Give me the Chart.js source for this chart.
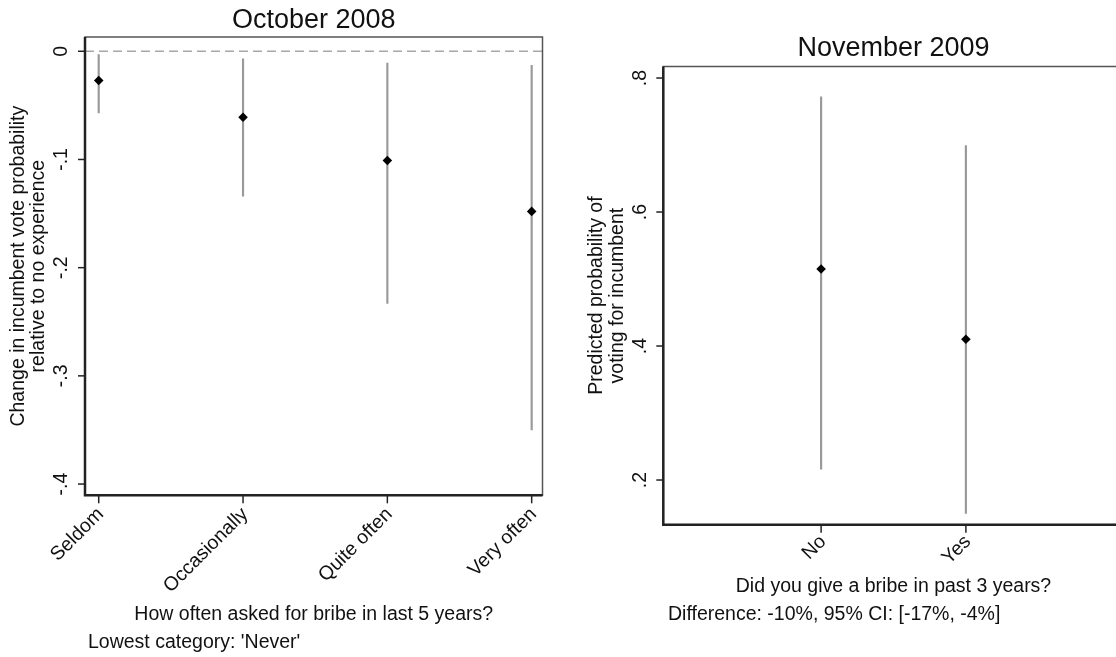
<!DOCTYPE html>
<html>
<head>
<meta charset="utf-8">
<script src="https://cdn.jsdelivr.net/npm/chart.js@4.4.1/dist/chart.umd.min.js"></script>
<style>
  html, body { margin: 0; padding: 0; background: #fff; overflow: hidden; width: 1116px; height: 657px; }
  #left  { position: absolute; left: 0;     top: 0; }
  #right { position: absolute; left: 560px; top: 0; }
</style>
</head>
<body>
<canvas id="left" width="560" height="657"></canvas>
<canvas id="right" width="600" height="657"></canvas>
<script>
// October 2008: change in incumbent vote probability vs. never being asked
const freqCategories = ['Seldom', 'Occasionally', 'Quite often', 'Very often'];
const freqEstimate   = [-0.027, -0.061, -0.101, -0.148];
const freqLower      = [-0.057, -0.134, -0.233, -0.350];
const freqUpper      = [-0.003, -0.007, -0.011, -0.013];
const freqTicks      = [0, -0.1, -0.2, -0.3, -0.4];
const freqTickLabels = ['0', '-.1', '-.2', '-.3', '-.4'];

// November 2009: predicted probability of voting for the incumbent
const bribeCategories = ['No', 'Yes'];
const bribeEstimate   = [0.515, 0.410];
const bribeLower      = [0.216, 0.150];
const bribeUpper      = [0.772, 0.699];
const bribeTicks      = [0.8, 0.6, 0.4, 0.2];
const bribeTickLabels = ['.8', '.6', '.4', '.2'];

const FONT = '"Liberation Sans", Arial, sans-serif';
const TEXT = '#111';

function rangeData(lower, upper) {
  return lower.map((lo, i) => ({ x: i + 1, y: [lo, upper[i]] }));
}
function pointData(est) {
  return est.map((v, i) => ({ x: i + 1, y: v }));
}

// Frame, axes, ticks and text for one panel
function panelDecor(p) {
  return {
    id: 'panelDecor',
    afterDraw(chart) {
      const { ctx, chartArea: a, scales: { x, y } } = chart;
      ctx.save();
      // plot region outline
      ctx.strokeStyle = '#555';
      ctx.lineWidth = 1.5;
      ctx.strokeRect(a.left, a.top, a.right - a.left, a.bottom - a.top);
      // axis lines
      ctx.strokeStyle = '#222';
      ctx.lineWidth = 2.5;
      ctx.beginPath();
      ctx.moveTo(a.left, a.top);
      ctx.lineTo(a.left, a.bottom);
      ctx.lineTo(a.right, a.bottom);
      ctx.stroke();

      // y ticks and rotated labels
      ctx.lineWidth = 1.5;
      ctx.fillStyle = TEXT;
      ctx.font = '19.5px ' + FONT;
      p.yTicks.forEach((v, i) => {
        const py = y.getPixelForValue(v);
        ctx.beginPath();
        ctx.moveTo(a.left - 7, py);
        ctx.lineTo(a.left, py);
        ctx.stroke();
        ctx.save();
        ctx.translate(p.yLabelX, py);
        ctx.rotate(-Math.PI / 2);
        ctx.textAlign = 'center';
        ctx.textBaseline = 'alphabetic';
        ctx.fillText(p.yTickLabels[i], 0, 0);
        ctx.restore();
      });

      // x ticks and slanted labels
      p.categories.forEach((c, i) => {
        const px = x.getPixelForValue(i + 1);
        ctx.beginPath();
        ctx.moveTo(px, a.bottom);
        ctx.lineTo(px, a.bottom + 8);
        ctx.stroke();
        ctx.save();
        ctx.translate(px + 2, a.bottom + p.xLabelDrop);
        ctx.rotate(-Math.PI / 4);
        ctx.textAlign = 'right';
        ctx.textBaseline = 'middle';
        ctx.fillText(c, 0, 0);
        ctx.restore();
      });

      // y axis title (two lines, rotated)
      const cy = (a.top + a.bottom) / 2;
      p.yTitle.forEach((line, i) => {
        ctx.save();
        ctx.translate(p.yTitleX[i], cy);
        ctx.rotate(-Math.PI / 2);
        ctx.textAlign = 'center';
        ctx.textBaseline = 'middle';
        ctx.fillText(line, 0, 0);
        ctx.restore();
      });

      // x axis title and note
      const cx = (a.left + a.right) / 2;
      ctx.textAlign = 'center';
      ctx.textBaseline = 'alphabetic';
      ctx.fillText(p.xTitle, cx, p.xTitleY);
      ctx.textAlign = 'left';
      ctx.fillText(p.note, p.noteX, p.noteY);

      // panel title
      ctx.font = '27px ' + FONT;
      ctx.textAlign = 'center';
      ctx.fillText(p.title, cx, p.titleY);
      ctx.restore();
    }
  };
}

function makePanel(id, p) {
  const datasets = [
    {
      type: 'line',
      data: pointData(p.estimate),
      showLine: false,
      pointStyle: 'rectRot',
      pointRadius: 4.8,
      pointBackgroundColor: '#000',
      pointBorderColor: '#000',
      pointBorderWidth: 0,
      order: 0
    },
    {
      type: 'bar',
      data: rangeData(p.lower, p.upper),
      backgroundColor: '#999',
      borderWidth: 0,
      barThickness: 1.5,
      grouped: false,
      order: 1
    }
  ];
  if (p.refLine !== undefined) {
    datasets.push({
      type: 'line',
      data: [{ x: p.xMin, y: p.refLine }, { x: p.xMax, y: p.refLine }],
      borderColor: '#a8a8a8',
      borderWidth: 1.5,
      borderDash: [9, 5],
      pointRadius: 0,
      order: 2
    });
  }
  return new Chart(document.getElementById(id), {
    type: 'bar',
    data: { datasets },
    options: {
      responsive: false,
      animation: false,
      devicePixelRatio: 1,
      layout: { padding: p.padding },
      plugins: { legend: { display: false }, tooltip: { enabled: false } },
      scales: {
        x: { type: 'linear', display: false, offset: false, min: p.xMin, max: p.xMax },
        y: { type: 'linear', display: false, min: p.yMin, max: p.yMax }
      }
    },
    plugins: [panelDecor(p)]
  });
}

makePanel('left', {
  title: 'October 2008',
  titleY: 28,
  categories: freqCategories,
  estimate: freqEstimate, lower: freqLower, upper: freqUpper,
  yTicks: freqTicks, yTickLabels: freqTickLabels,
  refLine: 0,
  xMin: 0.905, xMax: 4.075,
  yMin: -0.4104, yMax: 0.0132,
  padding: { left: 85, top: 37, right: 17.5, bottom: 161.7 },
  yLabelX: 67,
  yTitle: ['Change in incumbent vote probability', 'relative to no experience'],
  yTitleX: [18.5, 38.5],
  xLabelDrop: 16,
  xTitle: 'How often asked for bribe in last 5 years?',
  xTitleY: 620,
  note: "Lowest category: 'Never'",
  noteX: 88, noteY: 648
});

makePanel('right', {
  title: 'November 2009',
  titleY: 56,
  categories: bribeCategories,
  estimate: bribeEstimate, lower: bribeLower, upper: bribeUpper,
  yTicks: bribeTicks, yTickLabels: bribeTickLabels,
  xMin: -0.09, xMax: 3.09,
  yMin: 0.1333, yMax: 0.8172,
  padding: { left: 103.3, top: 66.5, right: 36.3, bottom: 132.3 },
  yLabelX: 85.5,
  yTitle: ['Predicted probability of', 'voting for incumbent'],
  yTitleX: [37, 57.5],
  xLabelDrop: 14,
  xTitle: 'Did you give a bribe in past 3 years?',
  xTitleY: 592,
  note: 'Difference: -10%, 95% CI: [-17%, -4%]',
  noteX: 108, noteY: 620
});
</script>
</body>
</html>
